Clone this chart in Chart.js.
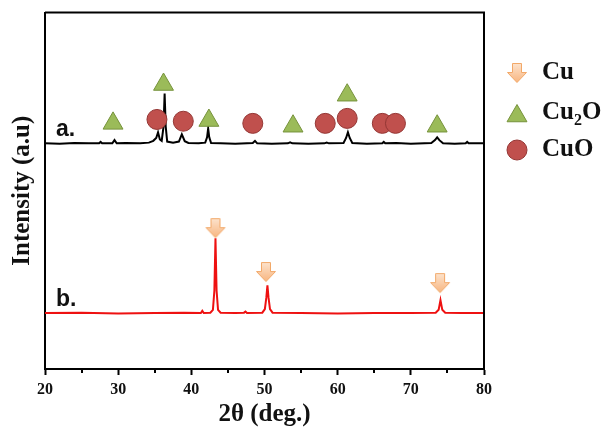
<!DOCTYPE html>
<html>
<head>
<meta charset="utf-8">
<script src="https://cdn.jsdelivr.net/npm/chart.js@4.4.1/dist/chart.umd.min.js"></script>
<style>
  html, body { margin: 0; padding: 0; background: #fff; }
  #wrap { width: 609px; height: 428px; }
</style>
</head>
<body>
<div id="wrap"><canvas id="xrd" width="609" height="428"></canvas></div>
<script>
// Pattern a: oxidised sample (2θ in degrees, intensity in arbitrary units)
const twoThetaA = [20, 22, 24, 26, 27.4, 27.6, 27.8, 29.2, 29.5, 29.8, 31, 33, 34.2, 34.8, 35.2, 35.45, 35.7, 35.95,
  36.2, 36.35, 36.5, 36.7, 37.5, 38.3, 38.7, 39.1, 39.6, 41, 41.9, 42.15, 42.3, 42.45, 42.7, 44, 46, 48.4, 48.7, 49.0,
  51, 53.2, 53.5, 53.8, 56, 58.2, 58.5, 58.8, 60.8, 61.15, 61.4, 61.65, 62.0, 64, 66.1, 66.3, 66.5, 68, 70, 72.8,
  73.3, 73.6, 73.9, 74.4, 76, 77.5, 77.7, 77.9, 80];
const intensityA = [63.3, 63.2, 63.4, 63.3, 63.3, 63.7, 63.3, 63.3, 64.2, 63.3, 63.4, 63.3, 63.5, 64.0, 64.8, 66.4, 64.4, 64.0,
  68, 77.3, 68, 63.8, 63.5, 63.8, 65.8, 63.9, 63.4, 63.3, 63.5, 65, 67.5, 65, 63.4, 63.3, 63.2, 63.4, 64.0, 63.3,
  63.2, 63.3, 63.6, 63.3, 63.2, 63.3, 63.5, 63.3, 63.4, 64.8, 66.4, 64.8, 63.4, 63.2, 63.3, 63.7, 63.3, 63.4, 63.2, 63.4,
  64.2, 65.0, 64.2, 63.3, 63.2, 63.3, 63.7, 63.3, 63.3];

// Pattern b: metallic copper sample
const twoThetaB = [20, 25, 30, 35, 39, 41.3, 41.5, 41.7, 42.6, 42.95, 43.15, 43.3, 43.45, 43.65, 44.0, 46, 47.2, 47.4, 47.6,
  49.7, 50.05, 50.25, 50.4, 50.55, 50.75, 51.1, 55, 60, 65, 70, 73.4, 73.8, 74.05, 74.3, 74.7, 77, 80];
const intensityB = [15.7, 15.8, 15.6, 15.7, 15.8, 15.7, 16.3, 15.7, 15.8, 16.6, 22, 36.7, 22, 16.6, 15.8, 15.7, 15.8, 16.1, 15.7,
  15.8, 16.8, 20, 23.5, 20, 16.8, 15.8, 15.7, 15.6, 15.7, 15.7, 15.8, 16.6, 19.3, 16.6, 15.8, 15.7, 15.7];

// Phase markers
const cu2oTheta = [29.3, 36.2, 42.4, 53.9, 61.3, 73.6];
const cu2oLevel = [68.9, 79.8, 69.7, 68.1, 76.8, 68.1];
const cuoTheta = [35.3, 38.9, 48.4, 58.3, 61.3, 66.1, 67.9];
const cuoLevel = [70.0, 69.5, 68.9, 68.9, 70.3, 68.9, 68.9];
const cuTheta = [43.3, 50.2, 74.0];
const cuLevel = [39.5, 27.2, 24.1];

// Axis ticks
const xMajorTicks = [20, 30, 40, 50, 60, 70, 80];
const xMinorTicks = [25, 35, 45, 55, 65, 75];

const toPoints = (xs, ys) => xs.map((x, i) => ({ x: x, y: ys[i] }));

// Down-arrow glyph used for the Cu phase
function makeArrow() {
  const c = document.createElement('canvas');
  c.width = 22; c.height = 22;
  const g = c.getContext('2d');
  const grad = g.createLinearGradient(0, 0, 0, 22);
  grad.addColorStop(0, '#fde6d2');
  grad.addColorStop(1, '#f7b27a');
  g.beginPath();
  g.moveTo(6.5, 1.5); g.lineTo(15.5, 1.5); g.lineTo(15.5, 10.5); g.lineTo(20.5, 10.5);
  g.lineTo(11, 20.5); g.lineTo(1.5, 10.5); g.lineTo(6.5, 10.5); g.closePath();
  g.fillStyle = grad; g.fill();
  g.lineWidth = 1; g.strokeStyle = '#f2a868'; g.stroke();
  return c;
}
const arrowGlyph = makeArrow();

const SERIF = "'Liberation Serif', 'Times New Roman', serif";
const SANS = "'Liberation Sans', Arial, sans-serif";

const triStyle = { fill: '#9bbb59', stroke: '#76923c' };
const cirStyle = { fill: '#c0504d', stroke: '#943634' };

// Frame, minor ticks, curve labels and phase key
const decorations = {
  id: 'decorations',
  afterDraw(chart) {
    const { ctx, chartArea: a, scales } = chart;
    const xs = scales.x, ys = scales.y;
    ctx.save();
    ctx.strokeStyle = '#000';
    ctx.lineWidth = 2;
    ctx.beginPath();
    ctx.moveTo(a.left, a.top); ctx.lineTo(a.right, a.top); ctx.lineTo(a.right, a.bottom);
    ctx.stroke();
    ctx.beginPath();
    xMinorTicks.forEach(v => {
      const px = Math.round(xs.getPixelForValue(v));
      ctx.moveTo(px, a.bottom); ctx.lineTo(px, a.bottom + 4);
    });
    ctx.stroke();

    ctx.fillStyle = '#111';
    ctx.font = 'bold 23px ' + SANS;
    ctx.textBaseline = 'alphabetic';
    ctx.textAlign = 'left';
    ctx.fillText('a.', a.left + 11, ys.getPixelForValue(63.3) - 7);
    ctx.fillText('b.', a.left + 11, ys.getPixelForValue(15.7) - 7);

    // phase key
    const kx = 517, tx = 542;
    const rows = [73, 113, 150];
    ctx.drawImage(arrowGlyph, kx - 11, rows[0] - 11);
    ctx.fillStyle = triStyle.fill; ctx.strokeStyle = triStyle.stroke; ctx.lineWidth = 1;
    Chart.helpers.drawPoint(ctx, { pointStyle: 'triangle', radius: 11.5, rotation: 0, borderWidth: 1 }, kx, rows[1] + 3);
    ctx.fillStyle = cirStyle.fill; ctx.strokeStyle = cirStyle.stroke;
    Chart.helpers.drawPoint(ctx, { pointStyle: 'circle', radius: 10, rotation: 0, borderWidth: 1 }, kx, rows[2]);

    ctx.fillStyle = '#111';
    ctx.textBaseline = 'middle';
    ctx.font = 'bold 25px ' + SERIF;
    ctx.fillText('Cu', tx, rows[0]);
    ctx.fillText('Cu', tx, rows[1]);
    let w = ctx.measureText('Cu').width;
    ctx.font = 'bold 16px ' + SERIF;
    ctx.fillText('2', tx + w, rows[1] + 8);
    const w2 = ctx.measureText('2').width;
    ctx.font = 'bold 25px ' + SERIF;
    ctx.fillText('O', tx + w + w2, rows[1]);
    ctx.fillText('CuO', tx, rows[2]);
    ctx.restore();
  }
};

new Chart(document.getElementById('xrd'), {
  type: 'line',
  data: {
    datasets: [
      {
        label: 'Cu',
        data: toPoints(cuTheta, cuLevel),
        showLine: false,
        pointStyle: arrowGlyph,
        pointRadius: 11,
        order: 1
      },
      {
        label: 'Cu2O',
        data: toPoints(cu2oTheta, cu2oLevel),
        showLine: false,
        pointStyle: 'triangle',
        pointRadius: 11.5,
        pointBackgroundColor: triStyle.fill,
        pointBorderColor: triStyle.stroke,
        pointBorderWidth: 1,
        order: 1
      },
      {
        label: 'CuO',
        data: toPoints(cuoTheta, cuoLevel),
        showLine: false,
        pointStyle: 'circle',
        pointRadius: 10,
        pointBackgroundColor: cirStyle.fill,
        pointBorderColor: cirStyle.stroke,
        pointBorderWidth: 1,
        order: 1
      },
      {
        label: 'a',
        data: toPoints(twoThetaA, intensityA),
        borderColor: '#000',
        borderWidth: 2,
        pointRadius: 0,
        tension: 0,
        order: 2
      },
      {
        label: 'b',
        data: toPoints(twoThetaB, intensityB),
        borderColor: '#ee1111',
        borderWidth: 2,
        pointRadius: 0,
        tension: 0,
        order: 2
      }
    ]
  },
  options: {
    responsive: false,
    animation: false,
    events: [],
    layout: { padding: { top: 12, right: 125, left: 0, bottom: 0 } },
    plugins: { legend: { display: false }, tooltip: { enabled: false } },
    scales: {
      x: {
        type: 'linear',
        min: 20, max: 80,
        afterFit(scale) { scale.height = 59; },
        afterBuildTicks(scale) { scale.ticks = xMajorTicks.map(v => ({ value: v })); },
        ticks: {
          padding: 5,
          color: '#111',
          font: { family: SERIF, size: 16, weight: 'bold' }
        },
        grid: { display: true, drawOnChartArea: false, drawTicks: true, tickLength: 6, tickColor: '#000', tickWidth: 2 },
        border: { display: true, color: '#000', width: 2 },
        title: {
          display: true,
          text: '2θ (deg.)',
          color: '#111',
          font: { family: SERIF, size: 25, weight: 'bold', lineHeight: 1.1 },
          padding: { top: 0, bottom: 0 }
        }
      },
      y: {
        type: 'linear',
        min: 0, max: 100,
        afterFit(scale) { scale.width = 45; },
        ticks: { display: false },
        grid: { display: false },
        border: { display: true, color: '#000', width: 2 },
        title: {
          display: true,
          text: 'Intensity (a.u)',
          color: '#111',
          font: { family: SERIF, size: 25, weight: 'bold', lineHeight: 1.2 },
          padding: { top: 8, bottom: 0 }
        }
      }
    }
  },
  plugins: [decorations]
});
</script>
</body>
</html>
